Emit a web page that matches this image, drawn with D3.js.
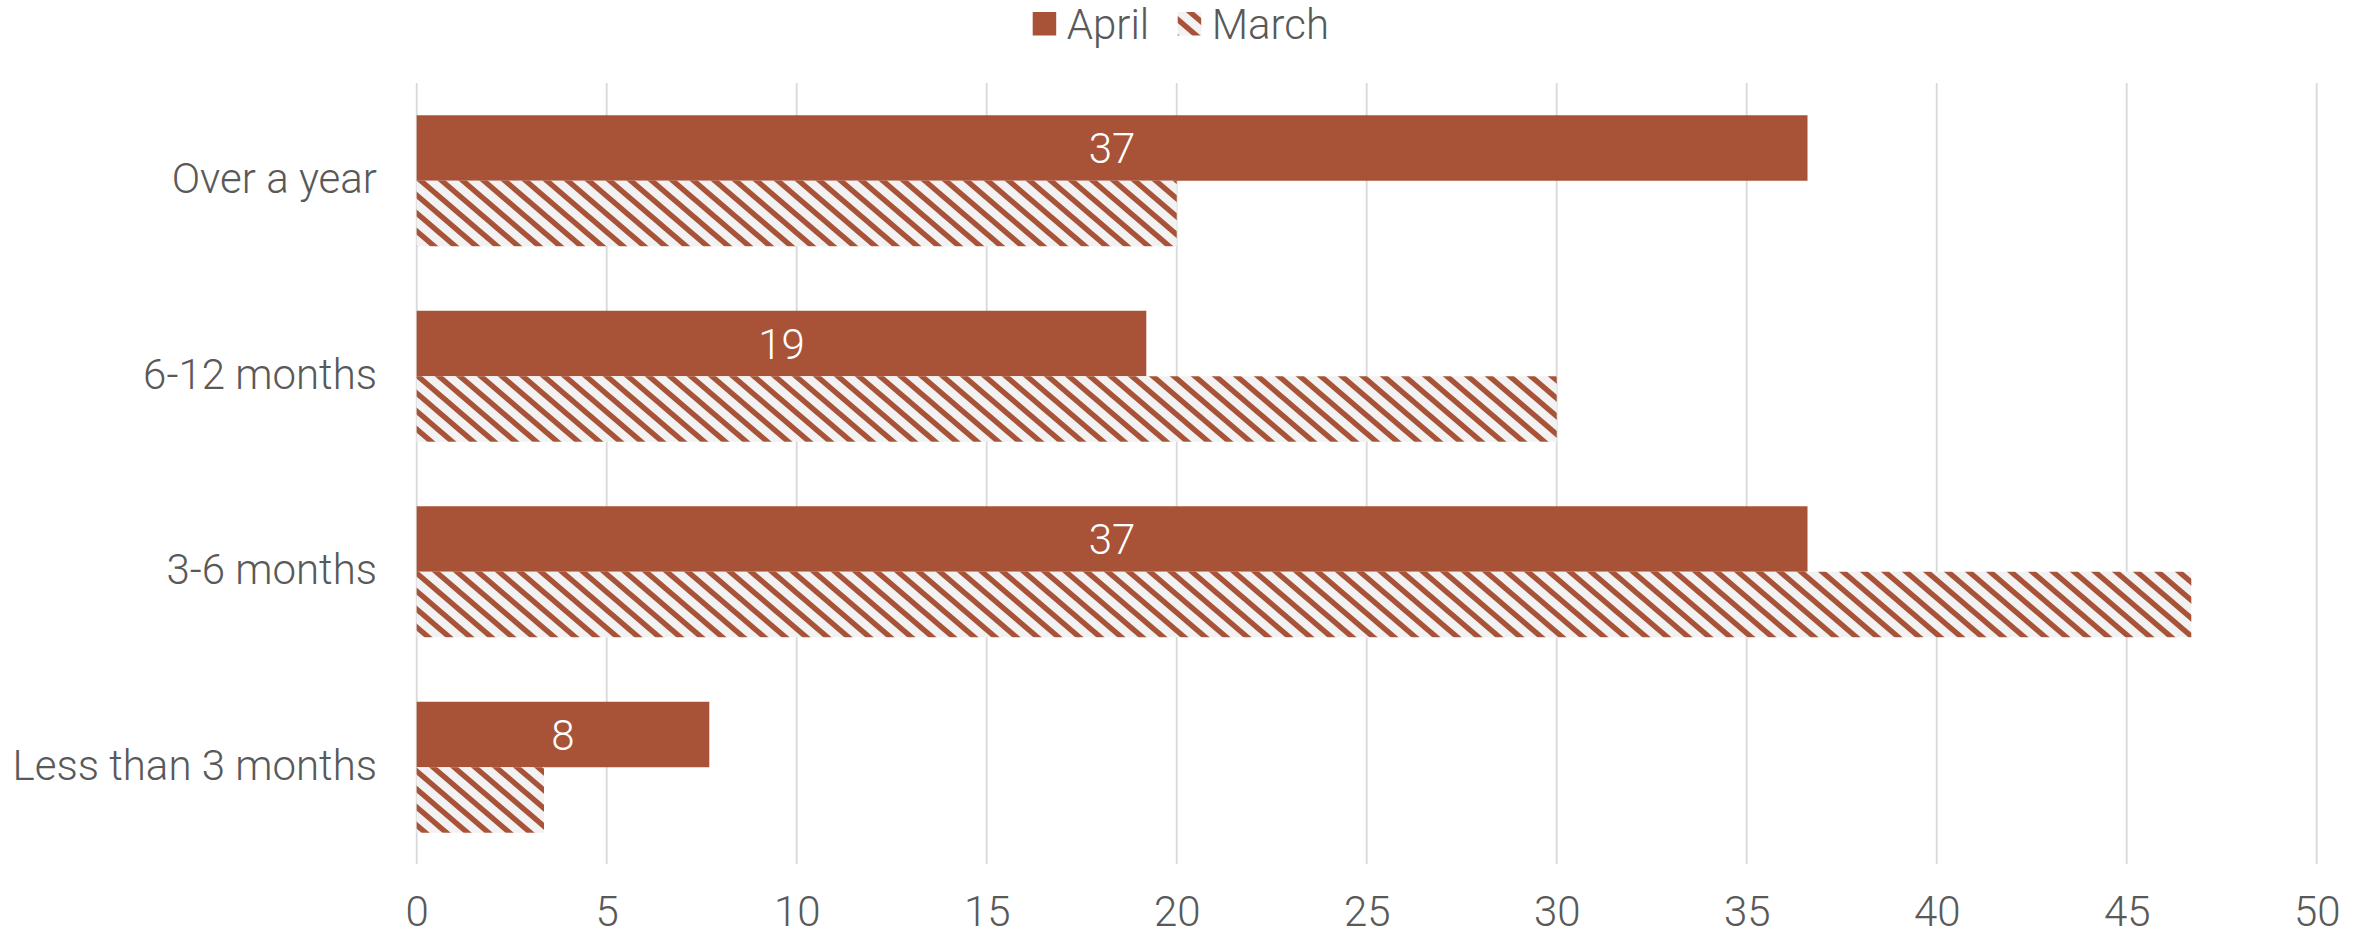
<!DOCTYPE html>
<html>
<head>
<meta charset="utf-8">
<script src="https://cdn.jsdelivr.net/npm/d3@7"></script>
<style>
  html, body { margin: 0; padding: 0; background: #ffffff; }
  svg { display: block; }
  text { font-family: Roboto, "Liberation Sans", Arial, sans-serif; font-weight: 300; }
</style>
</head>
<body>
<svg id="chart" width="2371" height="936"></svg>
<script>
const categories = ["Over a year", "6-12 months", "3-6 months", "Less than 3 months"];
const seriesNames = ["April", "March"];
const aprilValues = [36.6, 19.2, 36.6, 7.7];
const marchValues = [20.0, 30.0, 46.7, 3.35];
const xTicks = [0, 5, 10, 15, 20, 25, 30, 35, 40, 45, 50];

const W = 2371, H = 936;
const margin = { left: 416.7, right: 54.3, top: 83, bottom: 72 };
const barColor = "#A85338";
const textColor = "#595959";
const gridColor = "#D9D9D9";
const fontSize = "42px";

const svg = d3.select("#chart");

// stripe pattern for March
const PW = 21, PH = 18;
const defs = svg.append("defs");
const pat = defs.append("pattern")
  .attr("id", "stripes")
  .attr("patternUnits", "userSpaceOnUse")
  .attr("width", PW).attr("height", PH);
pat.append("rect").attr("width", PW).attr("height", PH).attr("fill", "#F2F2F2");
[-PW, 0, PW].forEach(dx => {
  pat.append("line")
    .attr("x1", -PW + dx).attr("y1", -PH)
    .attr("x2", 2 * PW + dx).attr("y2", 2 * PH)
    .attr("stroke", barColor).attr("stroke-width", 5.4);
});

const x = d3.scaleLinear().domain([0, 50]).range([margin.left, W - margin.right]);
const y = d3.scaleBand().domain(categories)
  .range([margin.top, H - margin.bottom + 1])
  .paddingInner(0.33).paddingOuter(0.165);
const ySub = d3.scaleBand().domain(seriesNames).range([0, y.bandwidth()]);

// gridlines
svg.append("g").selectAll("line").data(xTicks).join("line")
  .attr("x1", d => x(d)).attr("x2", d => x(d))
  .attr("y1", margin.top).attr("y2", H - margin.bottom)
  .attr("stroke", gridColor).attr("stroke-width", 1.8);

// x axis labels
const xAxis = d3.axisBottom(x).tickValues(xTicks).tickSize(0).tickPadding(0);
const gx = svg.append("g").attr("transform", `translate(0, ${H - margin.bottom})`).call(xAxis);
gx.select(".domain").remove();
gx.selectAll("text")
  .attr("y", 0).attr("dy", 0)
  .attr("transform", "translate(0, 62)")
  .attr("fill", textColor)
  .style("font-size", fontSize)
  .style("font-weight", 300)
  .style("font-family", "Roboto, 'Liberation Sans', Arial, sans-serif");

// y axis labels
const yAxis = d3.axisLeft(y).tickSize(0).tickPadding(0);
const gy = svg.append("g").attr("transform", `translate(377, 0)`).call(yAxis);
gy.select(".domain").remove();
gy.selectAll("text")
  .attr("dy", "0.3em")
  .attr("fill", textColor)
  .style("font-size", fontSize)
  .style("font-weight", 300)
  .style("font-family", "Roboto, 'Liberation Sans', Arial, sans-serif");

// bars
const rows = categories.map((c, i) => ({ cat: c, April: aprilValues[i], March: marchValues[i] }));

svg.append("g").selectAll("rect").data(rows).join("rect")
  .attr("x", x(0))
  .attr("y", d => y(d.cat) + ySub("April"))
  .attr("width", d => x(d.April) - x(0))
  .attr("height", ySub.bandwidth())
  .attr("fill", barColor);

svg.append("g").selectAll("rect").data(rows).join("rect")
  .attr("x", x(0))
  .attr("y", d => y(d.cat) + ySub("March"))
  .attr("width", d => x(d.March) - x(0))
  .attr("height", ySub.bandwidth())
  .attr("fill", "url(#stripes)");

// labels on April bars
svg.append("g").selectAll("text").data(rows).join("text")
  .attr("x", d => (x(0) + x(d.April)) / 2)
  .attr("y", d => y(d.cat) + ySub("April") + ySub.bandwidth() / 2)
  .attr("dy", "0.36em")
  .attr("text-anchor", "middle")
  .attr("fill", "#FFFFFF")
  .style("font-size", fontSize)
  .text(d => Math.round(d.April));

// legend
const legend = svg.append("g");
const legendItems = [
  { name: "April", fill: barColor, x: 1032.7 },
  { name: "March", fill: "url(#stripes)", x: 1177.7 }
];
legend.selectAll("rect").data(legendItems).join("rect")
  .attr("x", d => d.x).attr("y", 12)
  .attr("width", 23.5).attr("height", 23.5)
  .attr("fill", d => d.fill);
legend.selectAll("text").data(legendItems).join("text")
  .attr("x", d => d.x + 34)
  .attr("y", 38.5)
  .attr("fill", textColor)
  .style("font-size", fontSize)
  .text(d => d.name);
</script>
</body>
</html>
